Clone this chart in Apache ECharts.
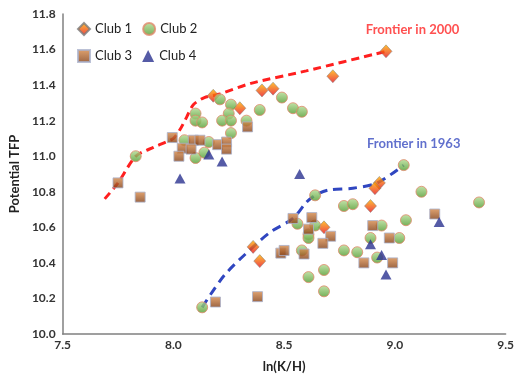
<!DOCTYPE html>
<html><head><meta charset="utf-8">
<script src="https://cdn.jsdelivr.net/npm/echarts@6/dist/echarts.min.js"></script>
<style>html,body{margin:0;padding:0;background:#fff}#c{width:517px;height:379px}</style>
</head><body><div id="c"></div>
<script>
const seriesNames = ['Club 1','Club 2','Club 3','Club 4'];
const club1 = [[8.18,11.34],[8.30,11.27],[8.40,11.37],[8.45,11.38],[8.72,11.45],[8.96,11.59],[8.36,10.49],[8.39,10.41],[8.68,10.60],[8.93,10.85],[8.91,10.82],[8.89,10.72]];
const club2 = [[7.83,11.00],[8.21,11.32],[8.10,11.24],[8.26,11.29],[8.25,11.24],[8.10,11.20],[8.13,11.19],[8.22,11.20],[8.26,11.20],[8.26,11.13],[8.05,11.09],[8.16,11.08],[8.10,10.99],[8.14,11.02],[8.39,11.26],[8.49,11.33],[8.54,11.27],[8.58,11.25],[8.33,11.20],
  [8.13,10.15],[8.64,10.78],[8.77,10.72],[8.81,10.73],[8.56,10.62],[8.64,10.61],[8.61,10.56],[8.61,10.54],[8.58,10.47],[8.77,10.47],[8.83,10.46],[8.68,10.36],[8.61,10.32],[8.68,10.24],[9.04,10.95],[9.12,10.80],[9.38,10.74],[9.05,10.64],[8.94,10.61],[9.02,10.54],[8.89,10.54],[8.92,10.43]];
const club3 = [[7.75,10.85],[7.85,10.77],[8.19,10.18],[8.38,10.21],[7.995,11.105],[8.09,11.09],[8.12,11.09],[8.04,11.045],[8.08,11.04],[8.20,11.065],[8.24,11.08],[8.24,11.04],[8.025,11.00],[8.335,11.165],
  [8.54,10.65],[8.625,10.655],[8.61,10.59],[8.71,10.55],[8.675,10.51],[8.485,10.455],[8.50,10.47],[8.59,10.45],[8.90,10.61],[8.975,10.54],[9.18,10.675],[8.86,10.40],[8.99,10.40]];
const club4 = [[8.16,11.01],[8.22,10.97],[8.03,10.875],[8.57,10.90],[9.20,10.63],[8.89,10.505],[8.94,10.445],[8.96,10.335]];
const frontier2000 = [[7.69,10.76],[7.75,10.85],[7.83,11.00],[7.91,11.05],[8.00,11.10],[8.03,11.15],[8.06,11.22],[8.09,11.29],[8.14,11.33],[8.21,11.35],[8.35,11.41],[8.60,11.48],[8.96,11.59]];
const frontier1963 = [[8.13,10.15],[8.23,10.33],[8.36,10.49],[8.44,10.575],[8.54,10.65],[8.60,10.74],[8.64,10.78],[8.70,10.81],[8.81,10.82],[8.92,10.85],[9.04,10.95]];
const annotations = [{text:'Frontier in 2000', pos:[9.08,11.71]},{text:'Frontier in 1963', pos:[9.085,11.07]}];
const xTicks = {min:7.5, max:9.5, interval:0.5};
const yTicks = {min:10.0, max:11.8, interval:0.2};

const FONT = 'Lato, "Open Sans", sans-serif';
function grad(a,b){return {type:'linear',x:0,y:0,x2:0,y2:1,colorStops:[{offset:0,color:a},{offset:1,color:b}]};}
const styles = [
  {symbol:'diamond', size:[12,13], item:{color:grad('#ffb400','#e8101c'), borderColor:'#7a7a7a', borderWidth:0.6}},
  {symbol:'circle', size:11, item:{color:grad('#b4dc94','#4f9a2c'), borderColor:'#e0886a', borderWidth:1}},
  {symbol:'rect', size:10, item:{color:grad('#d98c4c','#823e14'), borderColor:'#aab2cc', borderWidth:1}},
  {symbol:'triangle', size:[11,10], item:{color:'#2a3290'}}
];
const clubs = [club1,club2,club3,club4];
const series = [
  {type:'line', data:frontier2000, symbol:'none', smooth:0.25, z:1, silent:true,
   lineStyle:{color:'#ff1f1f', width:3, type:[8,5]}},
  {type:'line', data:frontier1963, symbol:'none', smooth:0.3, z:1, silent:true,
   lineStyle:{color:'#3046c0', width:3, type:[9,6]}}
];
clubs.forEach((d,i)=>{
  series.push({name:seriesNames[i], type:'scatter', data:d, symbol:styles[i].symbol, symbolSize:styles[i].size, itemStyle:styles[i].item, z:3});
});
series.push({type:'scatter', symbolSize:0, silent:true, z:4,
  data:annotations.map((a,i)=>({value:a.pos, label:{show:true, position:'inside', formatter:a.text,
    color:i===0?'#ff2424':'#3a4cc0', fontSize:13, fontWeight:'bold', fontFamily:FONT}}))});

const chart = echarts.init(document.getElementById('c'));
chart.setOption({
  animation:false,
  backgroundColor:'#fff',
  grid:{left:59, right:10, top:14, bottom:45},
  legend:[
    {data:['Club 1','Club 2'], left:72, top:17, itemWidth:12, itemHeight:12, itemGap:10, orient:'horizontal',
     textStyle:{fontSize:13, color:'#222', fontFamily:FONT}},
    {data:['Club 3','Club 4'], left:72, top:44, itemWidth:12, itemHeight:12, itemGap:10, orient:'horizontal',
     textStyle:{fontSize:13, color:'#222', fontFamily:FONT}}
  ],
  xAxis:{type:'value', min:xTicks.min, max:xTicks.max, interval:xTicks.interval,
    name:'ln(K/H)', nameLocation:'middle', nameGap:26,
    nameTextStyle:{fontSize:13, fontWeight:'bold', color:'#222', fontFamily:FONT},
    axisLine:{show:true, lineStyle:{color:'#808080', width:1.5}}, axisTick:{show:false}, splitLine:{show:false},
    axisLabel:{margin:5, fontSize:12, fontWeight:'bold', color:'#333', fontFamily:FONT, formatter:v=>v.toFixed(1)}},
  yAxis:{type:'value', min:yTicks.min, max:yTicks.max, interval:yTicks.interval,
    name:'Potential TFP', nameLocation:'middle', nameGap:36, nameRotate:90,
    nameTextStyle:{fontSize:13, fontWeight:'bold', color:'#222', fontFamily:FONT},
    axisLine:{show:true, lineStyle:{color:'#808080', width:1.5}}, axisTick:{show:false}, splitLine:{show:false},
    axisLabel:{margin:7, fontSize:12, fontWeight:'bold', color:'#333', fontFamily:FONT, formatter:v=>v.toFixed(1)}},
  series:series
});
</script></body></html>
